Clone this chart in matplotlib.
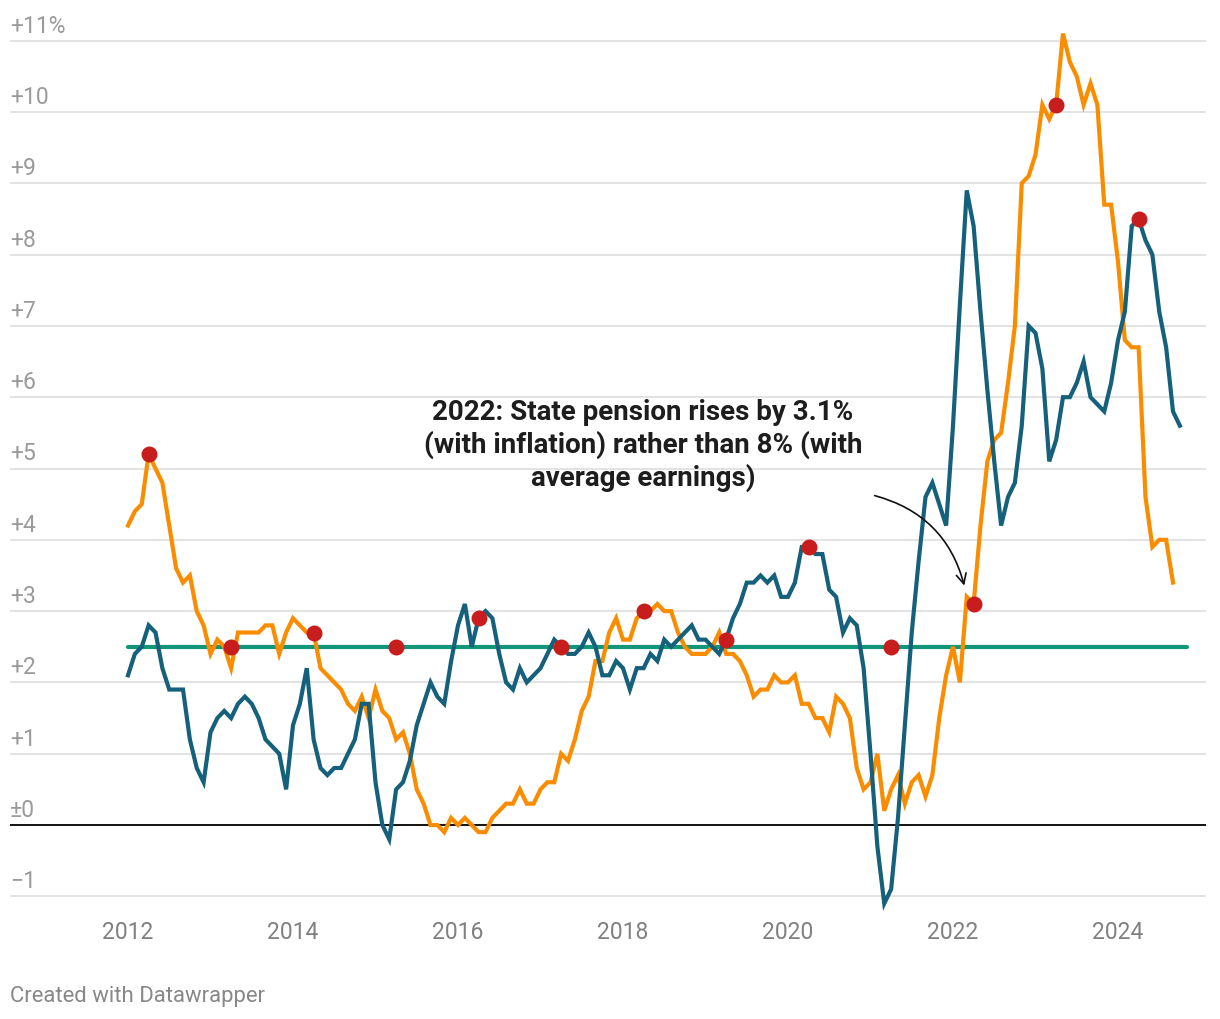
import numpy as np
import matplotlib.pyplot as plt
import matplotlib.transforms as mtransforms

plt.rcParams['font.family'] = ['Roboto', 'DejaVu Sans']

# monthly series, first point plotted at Jan 2012
cpi = [4.2, 4.4, 4.5, 5.2, 5.0, 4.8, 4.2, 3.6, 3.4, 3.5, 3.0, 2.8, 2.4, 2.6, 2.5, 2.2,
       2.7, 2.7, 2.7, 2.7, 2.8, 2.8, 2.4, 2.7, 2.9, 2.8, 2.7, 2.7, 2.2, 2.1, 2.0, 1.9,
       1.7, 1.6, 1.8, 1.5, 1.9, 1.6, 1.5, 1.2, 1.3, 1.0, 0.5, 0.3, 0.0, 0.0, -0.1, 0.1,
       0.0, 0.1, 0.0, -0.1, -0.1, 0.1, 0.2, 0.3, 0.3, 0.5, 0.3, 0.3, 0.5, 0.6, 0.6, 1.0,
       0.9, 1.2, 1.6, 1.8, 2.3, 2.3, 2.7, 2.9, 2.6, 2.6, 2.9, 3.0, 3.0, 3.1, 3.0, 3.0,
       2.7, 2.5, 2.4, 2.4, 2.4, 2.5, 2.7, 2.4, 2.4, 2.3, 2.1, 1.8, 1.9, 1.9, 2.1, 2.0,
       2.0, 2.1, 1.7, 1.7, 1.5, 1.5, 1.3, 1.8, 1.7, 1.5, 0.8, 0.5, 0.6, 1.0, 0.2, 0.5,
       0.7, 0.3, 0.6, 0.7, 0.4, 0.7, 1.5, 2.1, 2.5, 2.0, 3.2, 3.1, 4.2, 5.1, 5.4, 5.5,
       6.2, 7.0, 9.0, 9.1, 9.4, 10.1, 9.9, 10.1, 11.1, 10.7, 10.5, 10.1, 10.4, 10.1, 8.7, 8.7,
       7.9, 6.8, 6.7, 6.7, 4.6, 3.9, 4.0, 4.0, 3.4]

earnings = [2.1, 2.4, 2.5, 2.8, 2.7, 2.2, 1.9, 1.9, 1.9, 1.2,
            0.8, 0.6, 1.3, 1.5, 1.6, 1.5, 1.7, 1.8, 1.7, 1.5,
            1.2, 1.1, 1.0, 0.5, 1.4, 1.7, 2.2, 1.2, 0.8, 0.7,
            0.8, 0.8, 1.0, 1.2, 1.7, 1.7, 0.6, 0.0, -0.2, 0.5,
            0.6, 0.9, 1.4, 1.7, 2.0, 1.8, 1.7, 2.3, 2.8, 3.1,
            2.5, 2.9, 3.0, 2.9, 2.4, 2.0, 1.9, 2.2, 2.0, 2.1,
            2.2, 2.4, 2.6, 2.5, 2.4, 2.4, 2.5, 2.7, 2.5, 2.1,
            2.1, 2.3, 2.2, 1.9, 2.2, 2.2, 2.4, 2.3, 2.6, 2.5,
            2.6, 2.7, 2.8, 2.6, 2.6, 2.5, 2.4, 2.6, 2.9, 3.1,
            3.4, 3.4, 3.5, 3.4, 3.5, 3.2, 3.2, 3.4, 3.9, 3.9,
            3.8, 3.8, 3.3, 3.2, 2.7, 2.9, 2.8, 2.2, 1.0, -0.3,
            -1.1, -0.9, 0.1, 1.4, 2.7, 3.7, 4.6, 4.8, 4.5, 4.2,
            5.6, 7.3, 8.9, 8.4, 7.2, 6.1, 5.1, 4.2, 4.6, 4.8,
            5.6, 7.0, 6.9, 6.4, 5.1, 5.4, 6.0, 6.0, 6.2, 6.5,
            6.0, 5.9, 5.8, 6.2, 6.8, 7.2, 8.4, 8.5, 8.2, 8.0,
            7.2, 6.7, 5.8, 5.6]

floor_rate = 2.5
floor_months = 155

# April uprating each year (triple lock)
uprating_years = [2012, 2013, 2014, 2015, 2016, 2017, 2018, 2019, 2020, 2021, 2022, 2023, 2024]
uprating = [5.2, 2.5, 2.7, 2.5, 2.9, 2.5, 3.0, 2.6, 3.9, 2.5, 3.1, 10.1, 8.5]

ytick_vals = list(range(-1, 12))
ytick_labels = ['\u22121', '\u00b10', '+1', '+2', '+3', '+4', '+5', '+6', '+7', '+8', '+9', '+10', '+11%']
xtick_years = [2012, 2014, 2016, 2018, 2020, 2022, 2024]

note = '2022: State pension rises by 3.1%\n(with inflation) rather than 8% (with\naverage earnings)'

W, H = 1220, 1020
fig = plt.figure(figsize=(W / 100, H / 100), dpi=100)
ymin, ymax = -1.2, 11.2
ax = fig.add_axes([10 / W, 0.10627, 1196 / W, 0.86686])
ax.set_xlim(2012 - 118 / 82.5, 2012 + 1078 / 82.5)
ax.set_ylim(ymin, ymax)
for s in ax.spines.values():
    s.set_visible(False)
ax.set_yticks([])

for v in ytick_vals:
    if v == 0:
        ax.axhline(0, color='#111111', lw=1.4, zorder=2)
    else:
        ax.axhline(v, color='#e3e3e3', lw=1.4, zorder=1)

trans = mtransforms.blended_transform_factory(ax.transAxes, ax.transData)
for v, lab in zip(ytick_vals, ytick_labels):
    ax.annotate(lab, (0, v), xycoords=trans, xytext=(0, 6.5), textcoords='offset points',
                ha='left', va='baseline', fontsize=16.5, color='#9a9a9a')

x_cpi = 2012 + np.arange(len(cpi)) / 12
x_earn = 2012 + np.arange(len(earnings)) / 12
x_floor = 2012 + np.arange(floor_months) / 12

ax.plot(x_floor, [floor_rate] * floor_months, color='#11967a', lw=3, solid_capstyle='round', zorder=3)
ax.plot(x_cpi, cpi, color='#fa8c00', lw=3, solid_joinstyle='miter', zorder=4, clip_on=False)
ax.plot(x_earn, earnings, color='#15607a', lw=3, solid_joinstyle='miter', zorder=5, clip_on=False)
ax.plot(np.array(uprating_years) + 3 / 12, uprating, 'o', ms=11.5, color='#c71e1d',
        mec='none', zorder=6, clip_on=False)

ax.set_xticks(xtick_years)
ax.set_xticklabels([str(y) for y in xtick_years])
ax.tick_params(axis='x', length=0, pad=6.5, labelsize=16.5, labelcolor='#808080')

ax.annotate('', xy=(2022.145, 3.32), xytext=(2021.018, 4.63),
            arrowprops=dict(arrowstyle='->', color='#111111', lw=1.2,
                            connectionstyle='arc3,rad=-0.3', mutation_scale=18), zorder=7)
ax.text(2018.24, 5.34, note, ha='center', va='center', fontsize=20, fontweight='bold',
        color='#1d1d1d', linespacing=1.22, zorder=8)

fig.text(10 / W, 1 - 997 / H, 'Created with Datawrapper', ha='left', va='center',
         fontsize=15.9, color='#888888')

fig.savefig('out.png', dpi=100, facecolor='white')
